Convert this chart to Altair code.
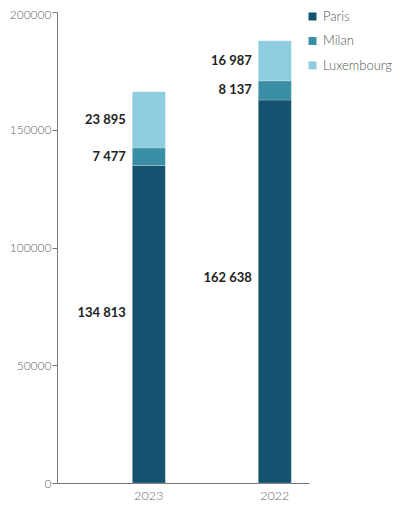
import altair as alt
import pandas as pd

years = ["2023", "2022"]
cities = ["Paris", "Milan", "Luxembourg"]
paris = [134813, 162638]
milan = [7477, 8137]
luxembourg = [23895, 16987]
colors = ["#14536f", "#3a8ea5", "#8ecde0"]
y_ticks = [0, 50000, 100000, 150000, 200000]

rows = []
for i, y in enumerate(years):
    for k, (c, vals) in enumerate(zip(cities, [paris, milan, luxembourg])):
        v = vals[i]
        rows.append({"year": y, "city": c, "order": k, "value": v,
                     "label": f"{v:,}".replace(",", " ")})
df = pd.DataFrame(rows)

FONT = "Lato"

x = alt.X("year:N", sort=years, title=None,
          scale=alt.Scale(paddingInner=0.738, paddingOuter=0.369, align=0.81),
          axis=alt.Axis(labelAngle=0, ticks=False, labelPadding=6,
                        labelFont=FONT, labelFontSize=12.5, labelColor="#666",
                        labelFontWeight=300, domainColor="#777"))

base = alt.Chart(df)

bars = base.mark_bar(stroke="white", strokeWidth=0.5, strokeOpacity=0.4).encode(
    x=x,
    y=alt.Y("value:Q", stack="zero", title=None,
            scale=alt.Scale(domain=[0, 200000], nice=False),
            axis=alt.Axis(values=y_ticks, format="d", grid=False, tickSize=5,
                          tickColor="#777", domainColor="#777",
                          labelFont=FONT, labelFontSize=12, labelColor="#666",
                          labelFontWeight=300, labelPadding=1,
                          labelOffset={"condition": {"test": "datum.value == 200000", "value": 2},
                                       "value": 0})),
    color=alt.Color("city:N", sort=cities,
                    scale=alt.Scale(domain=cities, range=colors),
                    legend=alt.Legend(title=None, orient="none", legendX=249, legendY=-2,
                                      symbolType="square", symbolSize=64,
                                      symbolStrokeWidth=0,
                                      labelFont=FONT, labelFontSize=13,
                                      labelFontWeight=300,
                                      labelColor="#555", rowPadding=10.5,
                                      labelOffset=4)),
    order=alt.Order("order:Q"),
)

labels = base.transform_stack(
    stack="value", groupby=["year"], as_=["v0", "v1"],
    sort=[alt.SortField("order", order="ascending")]
).transform_calculate(
    mid="datum.v0 + datum.value * (datum.city == 'Paris' ? 0.535 : 0.5)"
).mark_text(align="right", baseline="middle", dx=-23, font=FONT,
            fontSize=13, fontWeight="bold", color="#222").encode(
    x=x,
    y=alt.Y("mid:Q"),
    text="label:N",
)

chart = alt.layer(bars, labels).properties(
    width=252, height=471,
    autosize=alt.AutoSizeParams(type="none"),
    padding={"left": 49, "top": 4, "right": 92, "bottom": 18},
).configure_view(stroke=None)

chart.save("out.html", embed_options={"renderer": "svg", "actions": False})
